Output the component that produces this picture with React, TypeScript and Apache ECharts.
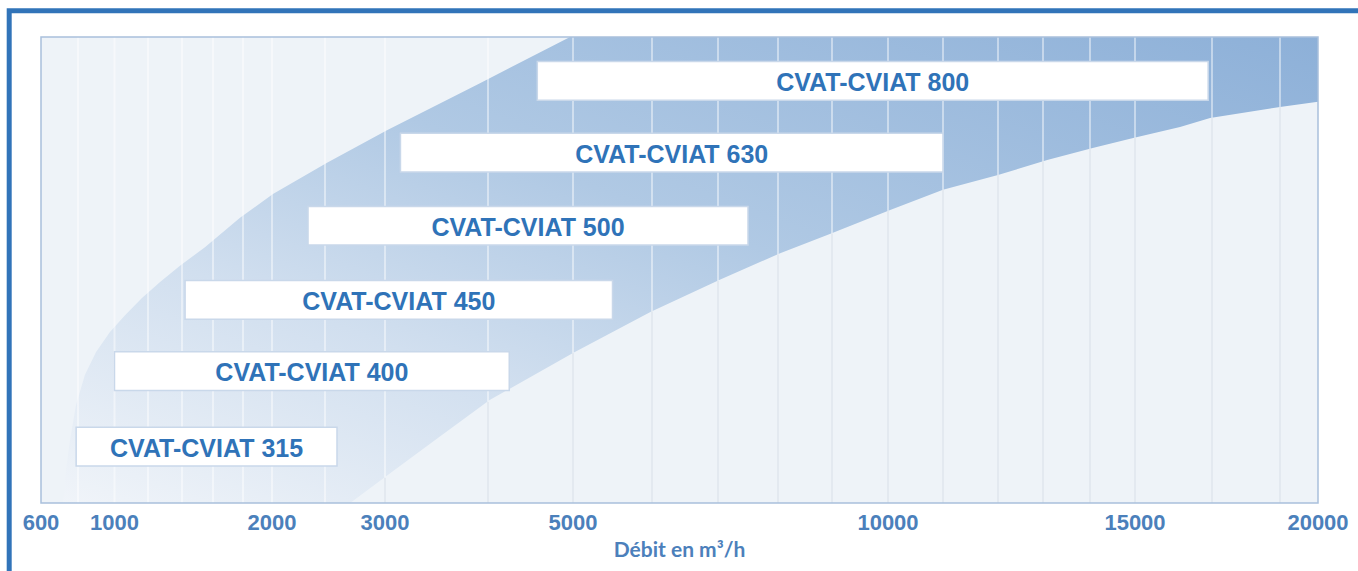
import React, { useEffect, useRef } from "react";
import * as echarts from "echarts";

// x-axis tick labels (flow, m³/h)
const TICK_FLOWS = [600, 1000, 2000, 3000, 5000, 10000, 15000, 20000];
// the picture's own (non-uniform) flow scale: flow -> axis unit
const SCALE_FLOW = [600, 800, 1000, 1200, 1400, 1600, 1800, 2000, 2500, 3000, 4000, 5000, 6000, 7000, 8000, 9000, 10000, 11000, 12000, 13000, 14000, 15000, 17000, 19000, 20000];
const SCALE_UNIT = [0, 37, 73.5, 107, 141, 172, 202, 231, 284, 344, 447, 532, 611, 677, 737, 791, 847, 902, 957, 1002, 1049, 1094, 1171, 1239, 1277];
// vertical grid lines (flow)
const GRID_FLOWS = [800, 1000, 1200, 1400, 1600, 1800, 2000, 2500, 3000, 4000, 5000, 6000, 7000, 8000, 9000, 10000, 11000, 12000, 13000, 14000, 15000, 17000, 19000];

// models and their flow ranges
const MODELS = ["CVAT-CVIAT 315", "CVAT-CVIAT 400", "CVAT-CVIAT 450", "CVAT-CVIAT 500", "CVAT-CVIAT 630", "CVAT-CVIAT 800"];
const RANGE_MIN = [790, 1000, 1420, 2340, 3150, 4580];
const RANGE_MAX = [2600, 4250, 5500, 7500, 11000, 16900];
const ROW_LEVEL = [12.1, 28.3, 43.6, 59.5, 75.2, 90.6];
const ROW_HEIGHT = 8.3;

// operating band: upper (left) boundary and lower (right) boundary
const UPPER_FLOW = [719, 735, 757, 789, 838, 899, 975, 1063, 1164, 1271, 1388, 1548, 1780, 2009, 2517, 3019, 3922, 4965, 20000];
const UPPER_V = [0, 7.1, 13.5, 21.0, 27.5, 32.4, 36.7, 40.3, 44.0, 47.4, 50.9, 54.9, 61.2, 66.3, 73.0, 80.0, 90.1, 100, 100];
const LOWER_FLOW = [2710, 3050, 3530, 4020, 5000, 5980, 7030, 8040, 8960, 10040, 11000, 12000, 13090, 14060, 14960, 16170, 16950, 19000, 20000];
const LOWER_V = [0, 6.4, 14.2, 22.1, 32.2, 41.0, 47.9, 53.6, 57.7, 62.9, 67.2, 70.4, 73.6, 76.2, 78.3, 80.7, 82.6, 85.0, 86.1];

function interp(xs: number[], ys: number[], x: number): number {
  if (x <= xs[0]) return ys[0];
  for (let i = 0; i < xs.length - 1; i++) {
    if (x <= xs[i + 1]) {
      const t = (x - xs[i]) / (xs[i + 1] - xs[i]);
      return ys[i] + t * (ys[i + 1] - ys[i]);
    }
  }
  return ys[ys.length - 1];
}
const toAxis = (f: number) => interp(SCALE_FLOW, SCALE_UNIT, f);
const lowerAt = (f: number) => (f < LOWER_FLOW[0] ? 0 : interp(LOWER_FLOW, LOWER_V, f));

export default function App() {
  const ref = useRef<HTMLDivElement>(null);
  useEffect(() => {
    if (!ref.current) return;
    const chart = echarts.init(ref.current, null, { renderer: "svg" });
    const tickUnits = TICK_FLOWS.map(toAxis);
    const option: any = {
      animation: false,
      grid: {
        left: 41, right: 40, top: 37, bottom: 68,
        show: true, backgroundColor: "#eef3f8", borderWidth: 0,
      },
      xAxis: {
        type: "value", min: 0, max: SCALE_UNIT[SCALE_UNIT.length - 1],
        axisLine: { show: false }, axisTick: { show: false }, splitLine: { show: false },
        axisLabel: {
          customValues: tickUnits,
          margin: 8,
          color: "#4b80bb",
          fontSize: 22,
          fontWeight: "bold",
          fontFamily: "'Liberation Sans', Arial, sans-serif",
          formatter: (v: number) => {
            let best = 0;
            tickUnits.forEach((u, i) => { if (Math.abs(u - v) < Math.abs(tickUnits[best] - v)) best = i; });
            return String(TICK_FLOWS[best]);
          },
        },
        name: "Débit en m³/h",
        nameLocation: "middle",
        nameGap: 35,
        nameTextStyle: { color: "#4c80bb", fontSize: 21, fontWeight: "bold", fontFamily: "Lato, 'Open Sans', sans-serif" },
      },
      yAxis: { type: "value", min: 0, max: 100, show: false },
      series: [
        {
          type: "custom", silent: true, z: 1, clip: true,
          data: [0],
          renderItem: (_p: any, api: any) => {
            const pts: number[][] = [];
            for (let i = 0; i < UPPER_FLOW.length; i++) pts.push(api.coord([toAxis(UPPER_FLOW[i]), UPPER_V[i]]));
            for (let i = LOWER_FLOW.length - 1; i >= 0; i--) pts.push(api.coord([toAxis(LOWER_FLOW[i]), LOWER_V[i]]));
            return {
              type: "polygon",
              shape: { points: pts },
              style: {
                fill: new echarts.graphic.LinearGradient(0, 1, 1, 0, [
                  { offset: 0, color: "#f0f4f9" },
                  { offset: 0.3, color: "#d1dfef" },
                  { offset: 0.55, color: "#b0c9e4" },
                  { offset: 1, color: "#8db0d8" },
                ]),
              },
            };
          },
        },
        {
          type: "custom", silent: true, z: 2,
          data: GRID_FLOWS.map((f) => [toAxis(f), lowerAt(f)]),
          renderItem: (_p: any, api: any) => {
            const u = api.value(0);
            const lv = api.value(1);
            const b = api.coord([u, 0]);
            const m = api.coord([u, lv]);
            const t = api.coord([u, 100]);
            return {
              type: "group",
              children: [
                { type: "line", shape: { x1: b[0], y1: b[1], x2: m[0], y2: m[1] }, style: { stroke: "#dfe6ee", lineWidth: 1.5 } },
                { type: "line", shape: { x1: m[0], y1: m[1], x2: t[0], y2: t[1] }, style: { stroke: "rgba(255,255,255,0.45)", lineWidth: 2 } },
              ],
            };
          },
        },
        {
          type: "custom", silent: true, z: 3,
          data: MODELS.map((name, i) => [toAxis(RANGE_MIN[i]), toAxis(RANGE_MAX[i]), ROW_LEVEL[i], i]),
          renderItem: (_p: any, api: any) => {
            const lv = api.value(2);
            const s = api.coord([api.value(0), lv + ROW_HEIGHT / 2]);
            const e = api.coord([api.value(1), lv - ROW_HEIGHT / 2]);
            const c = api.coord([(api.value(0) + api.value(1)) / 2, lv]);
            return {
              type: "group",
              children: [
                {
                  type: "rect",
                  shape: { x: s[0], y: s[1], width: e[0] - s[0], height: e[1] - s[1] },
                  style: { fill: "#ffffff", stroke: "#c9d8ea", lineWidth: 1.5 },
                },
                {
                  type: "text",
                  x: c[0], y: c[1] + 1,
                  style: {
                    text: MODELS[api.value(3)],
                    align: "center", verticalAlign: "middle",
                    fill: "#2f73b8",
                    fontSize: 25, fontWeight: "bold",
                    fontFamily: "'Liberation Sans', Arial, sans-serif",
                  },
                },
              ],
            };
          },
        },
      ],
      graphic: [
        {
          type: "rect", z: 100, silent: true,
          shape: { x: 41, y: 37, width: 1277, height: 466 },
          style: { fill: "none", stroke: "#a9c0dc", lineWidth: 1.5 },
        },
        {
          type: "rect", z: 100, silent: true,
          shape: { x: 9.2, y: 10.8, width: 1500, height: 800 },
          style: { fill: "none", stroke: "#3174b9", lineWidth: 5 },
        },
      ],
    };
    chart.setOption(option);
    return () => chart.dispose();
  }, []);
  return (
    <div
      ref={ref}
      style={{ position: "fixed", left: 0, top: 0, width: 1358, height: 571, background: "#ffffff" }}
    />
  );
}
